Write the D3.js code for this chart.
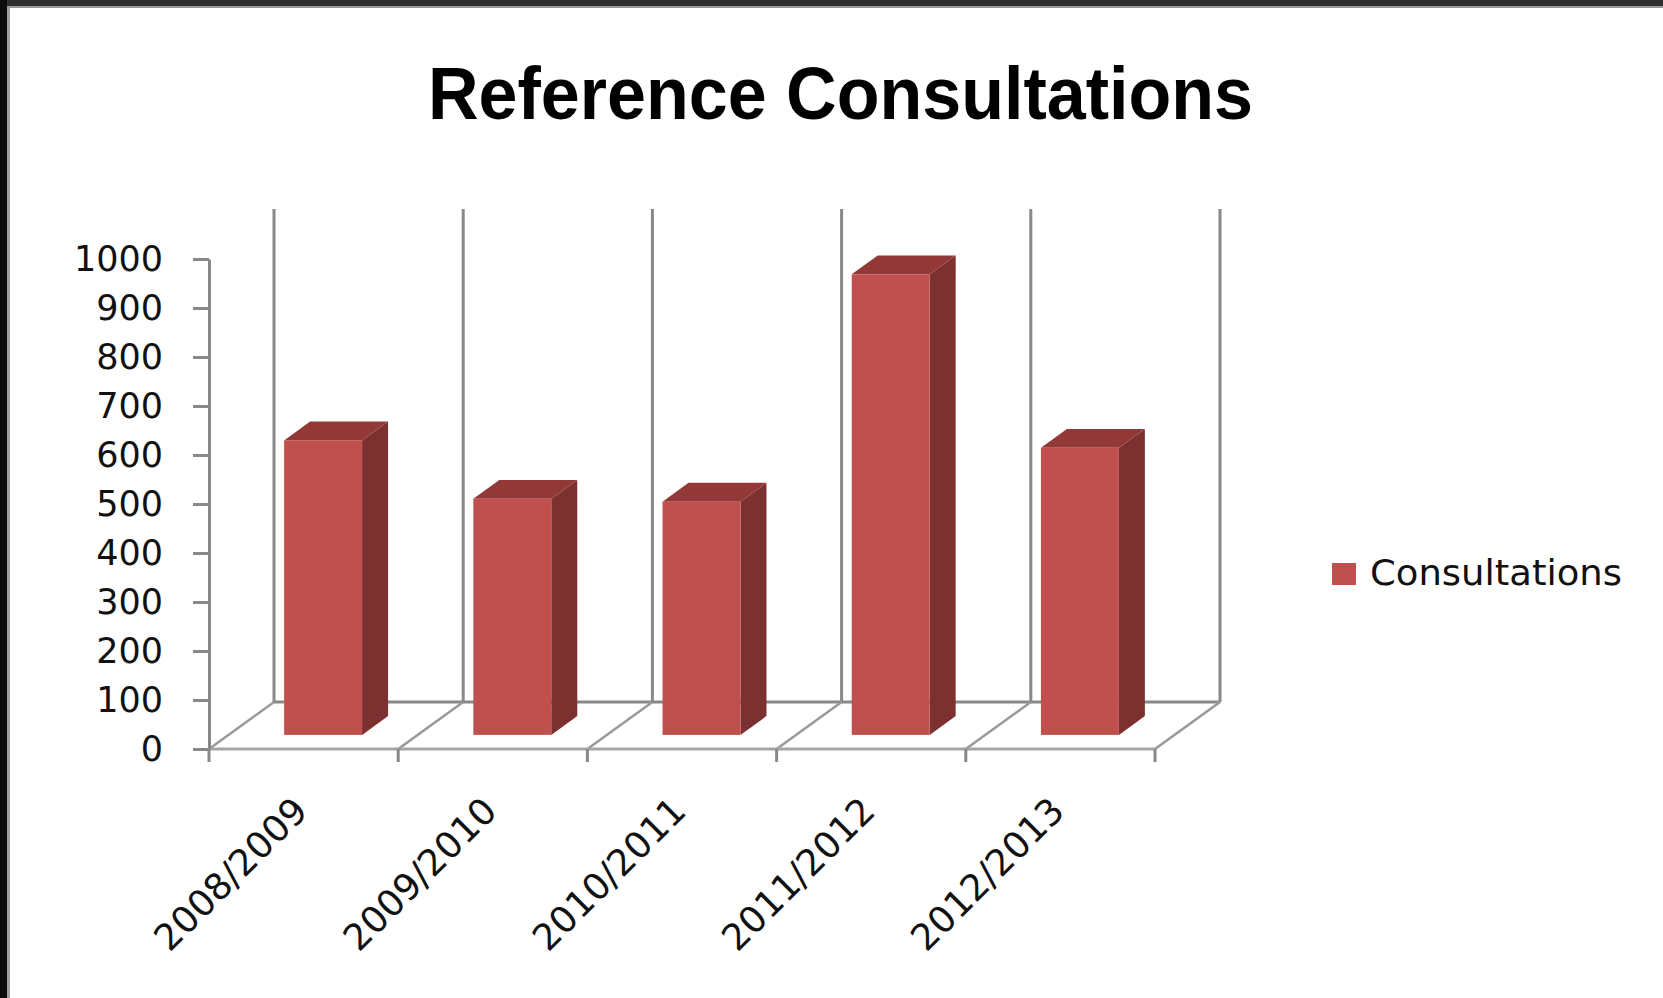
<!DOCTYPE html>
<html>
<head>
<meta charset="utf-8">
<script src="https://cdn.jsdelivr.net/npm/d3@7"></script>
<style>
  html, body { margin: 0; padding: 0; background: #fff; }
  svg { display: block; }
</style>
</head>
<body>
<script>
// ---- data ----
const title = "Reference Consultations";
const seriesName = "Consultations";
const categories = ["2008/2009", "2009/2010", "2010/2011", "2011/2012", "2012/2013"];
const consultations = [601, 482, 476, 940, 586];
const yTicks = [0, 100, 200, 300, 400, 500, 600, 700, 800, 900, 1000];

// ---- layout ----
const W = 1663, H = 998;
const plot = { left: 209, right: 1155, bottom: 749, top: 259 };
const depth = { dx: 65, dy: -47 };     // floor depth vector (front -> back)
const barDepth = [0.3, 0.7];           // bars sit in middle of the depth
const colors = { front: "#C0504D", side: "#7C302F", top: "#923937", grid: "#888888" };
const labelFont = "'DejaVu Sans', Verdana, sans-serif";

const svg = d3.select("body").append("svg").attr("width", W).attr("height", H);
svg.append("rect").attr("width", W).attr("height", H).attr("fill", "#fff");

// window frame (top and left dark edges)
svg.append("rect").attr("x", 0).attr("y", 0).attr("width", W).attr("height", 6).attr("fill", "#2e2e2e");
svg.append("rect").attr("x", 0).attr("y", 6).attr("width", W).attr("height", 2).attr("fill", "#9a9a9a");
svg.append("rect").attr("x", 0).attr("y", 0).attr("width", 7).attr("height", H).attr("fill", "#0d0d0d");
svg.append("rect").attr("x", 7).attr("y", 8).attr("width", 3).attr("height", H).attr("fill", "#a0a0a0");

const x = d3.scaleBand().domain(categories).range([plot.left, plot.right])
  .paddingInner(0.588).paddingOuter(0.294);
const y = d3.scaleLinear().domain([0, 1000]).range([plot.bottom, plot.top]);

const step = x.step();
const boundaries = d3.range(categories.length + 1).map(i => plot.left + i * step);

const g = svg.append("g");

// back wall vertical gridlines
g.selectAll("line.wall").data(boundaries).join("line")
  .attr("x1", d => d + depth.dx).attr("x2", d => d + depth.dx)
  .attr("y1", y(0) + depth.dy).attr("y2", y(1000) + depth.dy - 3)
  .attr("stroke", colors.grid).attr("stroke-width", 3);

// floor: back line, front line and diagonals
g.append("line")
  .attr("x1", plot.left + depth.dx).attr("x2", plot.right + depth.dx)
  .attr("y1", y(0) + depth.dy).attr("y2", y(0) + depth.dy)
  .attr("stroke", colors.grid).attr("stroke-width", 3);
g.selectAll("line.diag").data(boundaries).join("line")
  .attr("x1", d => d).attr("y1", y(0))
  .attr("x2", d => d + depth.dx).attr("y2", y(0) + depth.dy)
  .attr("stroke", "#999").attr("stroke-width", 2.5);
g.append("line")
  .attr("x1", plot.left).attr("x2", plot.right)
  .attr("y1", y(0)).attr("y2", y(0))
  .attr("stroke", "#a5a5a5").attr("stroke-width", 3);

// bars (3D)
const bars = g.selectAll("g.bar").data(categories.map((c, i) => ({ c, v: consultations[i] }))).join("g");
bars.each(function(d) {
  const sel = d3.select(this);
  const fx = x(d.c) + barDepth[0] * depth.dx;
  const fy0 = y(0) + barDepth[0] * depth.dy;
  const fy1 = y(d.v) + barDepth[0] * depth.dy;
  const w = x.bandwidth();
  const ddx = (barDepth[1] - barDepth[0]) * depth.dx;
  const ddy = (barDepth[1] - barDepth[0]) * depth.dy;
  // side face
  sel.append("path")
    .attr("d", `M${fx + w},${fy1} L${fx + w + ddx},${fy1 + ddy} L${fx + w + ddx},${fy0 + ddy} L${fx + w},${fy0} Z`)
    .attr("fill", colors.side);
  // top face
  sel.append("path")
    .attr("d", `M${fx},${fy1} L${fx + ddx},${fy1 + ddy} L${fx + w + ddx},${fy1 + ddy} L${fx + w},${fy1} Z`)
    .attr("fill", colors.top);
  // front face
  sel.append("rect")
    .attr("x", fx).attr("y", fy1).attr("width", w).attr("height", fy0 - fy1)
    .attr("fill", colors.front);
});

// y axis
const yAxis = d3.axisLeft(y).tickValues(yTicks).tickFormat(d3.format("d"))
  .tickSize(16).tickSizeOuter(0).tickPadding(30);
const ya = svg.append("g").attr("transform", `translate(${plot.left},0)`).call(yAxis);
ya.select(".domain").attr("stroke", colors.grid).attr("stroke-width", 3);
ya.selectAll(".tick line").attr("stroke", colors.grid).attr("stroke-width", 3);
ya.selectAll(".tick text").attr("fill", "#111").style("font-family", labelFont).style("font-size", "35px");

// category ticks at boundaries
svg.selectAll("line.ctick").data(boundaries).join("line")
  .attr("x1", d => d).attr("x2", d => d)
  .attr("y1", y(0)).attr("y2", y(0) + 13)
  .attr("stroke", colors.grid).attr("stroke-width", 3);

// category labels
svg.selectAll("text.cat").data(categories).join("text")
  .attr("transform", d => `translate(${x(d) + x.bandwidth() / 2 + 6},${y(0) + 64}) rotate(-45)`)
  .attr("text-anchor", "end")
  .attr("fill", "#111")
  .style("font-family", labelFont).style("font-size", "36.5px")
  .text(d => d);

// title
svg.append("text")
  .attr("x", 428).attr("y", 119)
  .attr("textLength", 825).attr("lengthAdjust", "spacingAndGlyphs")
  .attr("fill", "#000")
  .style("font-family", "'Liberation Sans Narrow', 'Liberation Sans', Arial, sans-serif")
  .style("font-weight", "bold").style("font-size", "75px")
  .text(title);

// legend
const lg = svg.append("g").attr("transform", "translate(1332,563)");
lg.append("rect").attr("width", 24).attr("height", 22).attr("fill", colors.front);
lg.append("text").attr("x", 38).attr("y", 22)
  .attr("fill", "#111")
  .style("font-family", labelFont).style("font-size", "36px")
  .attr("textLength", 252).attr("lengthAdjust", "spacingAndGlyphs")
  .text(seriesName);
</script>
</body>
</html>
